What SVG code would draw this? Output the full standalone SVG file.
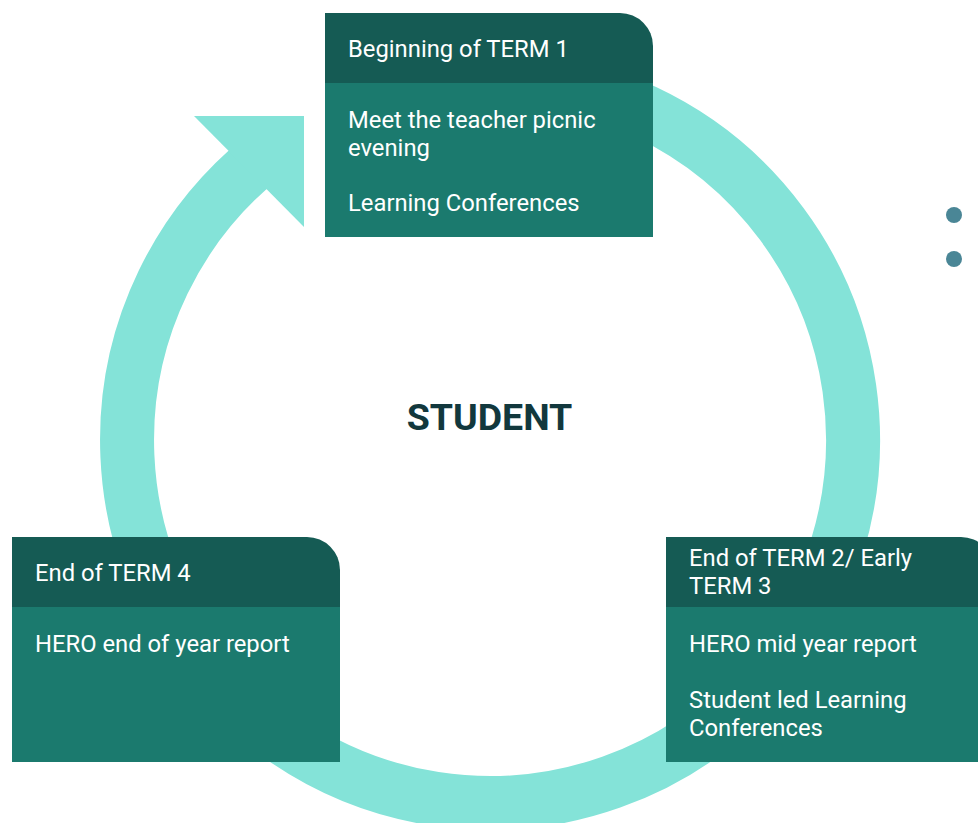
<svg xmlns="http://www.w3.org/2000/svg" width="978" height="823" viewBox="0 0 978 823">
  <style>
    .ring { fill: none; stroke: #84E3D8; stroke-width: 54; }
    .arrowhead { fill: #84E3D8; }
    .hdr { fill: #155B54; }
    .body { fill: #1B7A6E; }
    .txt { font-family: Roboto, "Liberation Sans", sans-serif; font-size: 23.8px; fill: #FFFFFF; }
    .center { font-family: Roboto, "Liberation Sans", sans-serif; font-size: 37.5px; font-weight: bold; fill: #12383D; }
    .dot { fill: #4A8696; }
  </style>
  <rect width="978" height="823" fill="#FFFFFF"/>
  <g id="connectors">
    <path class="ring" d="M 490 77 A 363 363 0 1 1 261.6 157.9"/>
    <polygon class="arrowhead" points="194,116 304,116 304,227"/>
  </g>
  <g id="center-label">
    <text class="center" x="489.5" y="430" text-anchor="middle">STUDENT</text>
  </g>
  <g id="node-term1">
    <path class="hdr" d="M 325 13 H 620 A 33 33 0 0 1 653 46 V 83 H 325 Z"/>
    <rect class="body" x="325" y="83" width="328" height="154"/>
    <text class="txt" x="348" y="57">Beginning of TERM 1</text>
    <text class="txt" x="348" y="128">Meet the teacher picnic</text>
    <text class="txt" x="348" y="156">evening</text>
    <text class="txt" x="348" y="211">Learning Conferences</text>
  </g>
  <g id="node-term23">
    <path class="hdr" d="M 666 537 H 961 A 33 33 0 0 1 994 570 V 607 H 666 Z"/>
    <rect class="body" x="666" y="607" width="328" height="155"/>
    <text class="txt" x="689" y="566">End of TERM 2/ Early</text>
    <text class="txt" x="689" y="594">TERM 3</text>
    <text class="txt" x="689" y="652">HERO mid year report</text>
    <text class="txt" x="689" y="708">Student led Learning</text>
    <text class="txt" x="689" y="736">Conferences</text>
  </g>
  <g id="node-term4">
    <path class="hdr" d="M 12 537 H 307 A 33 33 0 0 1 340 570 V 607 H 12 Z"/>
    <rect class="body" x="12" y="607" width="328" height="155"/>
    <text class="txt" x="35" y="581">End of TERM 4</text>
    <text class="txt" x="35" y="652">HERO end of year report</text>
  </g>
  <g id="dots">
    <circle class="dot" cx="954" cy="215" r="8"/>
    <circle class="dot" cx="954" cy="259" r="8"/>
  </g>
</svg>
